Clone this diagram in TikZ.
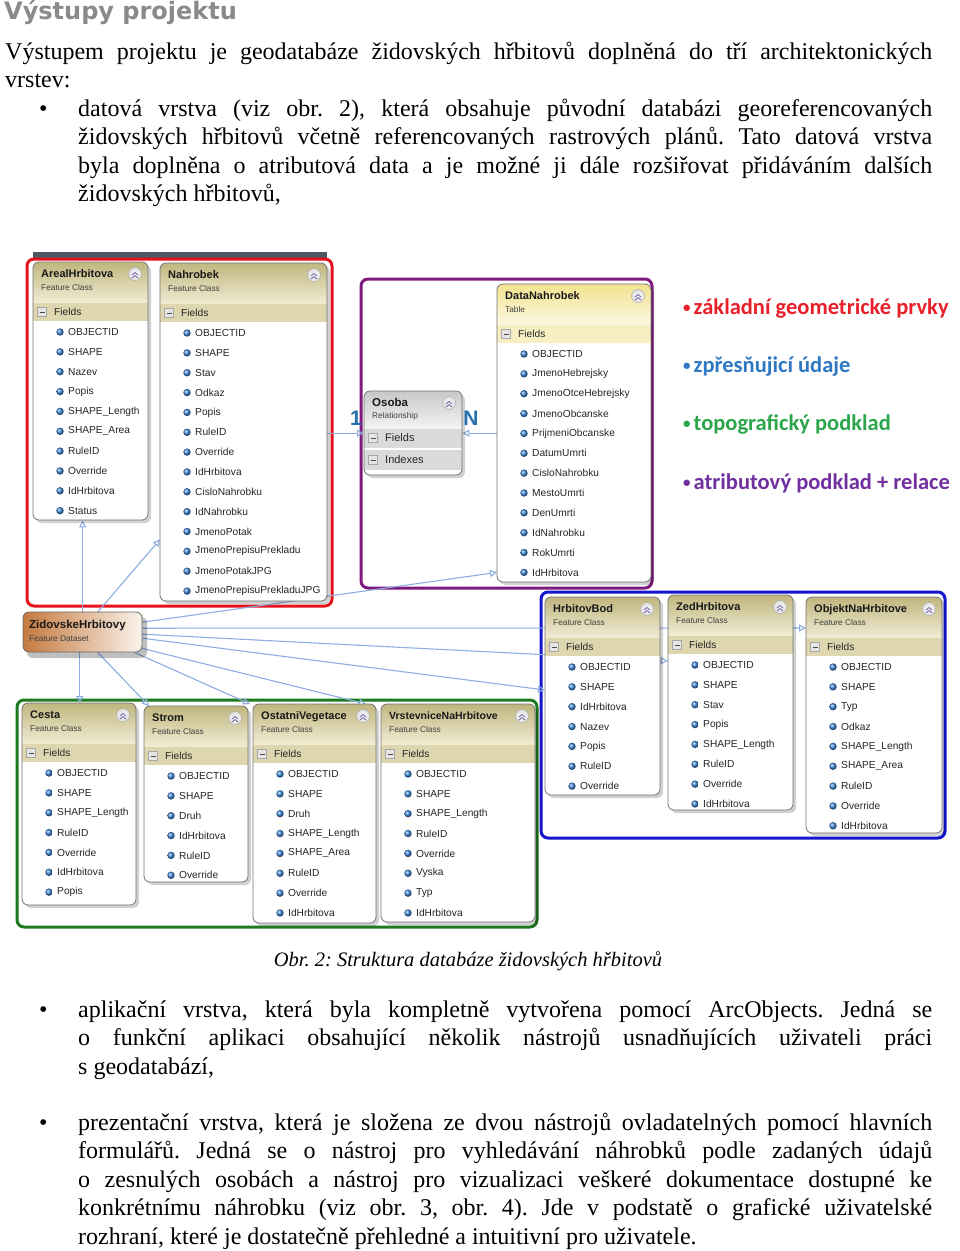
\documentclass[tikz,border=0pt]{standalone}
\usepackage{fontspec}
\setmainfont{Liberation Serif}
\newfontfamily\uifont{Liberation Sans}
\newfontfamily\legfont{Carlito}
\newfontfamily\headfont{DejaVu Sans}
\usetikzlibrary{arrows.meta}
\frenchspacing
\definecolor{hkA}{HTML}{C0B67E}\definecolor{hkB}{HTML}{F0EBD3}\definecolor{hkR}{HTML}{DED6AF}
\definecolor{ylA}{HTML}{F2E38F}\definecolor{ylB}{HTML}{FCF8E0}\definecolor{ylR}{HTML}{F7EFC2}
\definecolor{gyA}{HTML}{C8C8C8}\definecolor{gyB}{HTML}{F4F4F4}\definecolor{gyR}{HTML}{DADADA}
\definecolor{zidA}{HTML}{C57A3F}\definecolor{zidB}{HTML}{FAF3EB}
\definecolor{connc}{HTML}{8DAEE2}\definecolor{ballc}{HTML}{3D86D6}
\definecolor{redc}{HTML}{E5121B}\definecolor{purc}{HTML}{7E1A7E}\definecolor{bluc}{HTML}{1515CC}
\definecolor{grnc}{HTML}{1E7A1E}\definecolor{barc}{HTML}{4D5965}\definecolor{headc}{HTML}{8A8A8A}
\definecolor{relc}{HTML}{2770B0}\definecolor{chevc}{HTML}{7B6CA8}
\definecolor{legred}{HTML}{E8202A}\definecolor{legblue}{HTML}{2E78C4}
\definecolor{leggreen}{HTML}{2BA64B}\definecolor{legpurple}{HTML}{7030A0}
\tikzset{
 body/.style={font=\fontsize{24}{28.5}\selectfont, inner sep=0, anchor=base west},
 head/.style={font=\headfont\bfseries\fontsize{24}{28}\selectfont, text=headc, inner sep=0, anchor=base west},
 leg/.style={font=\legfont\bfseries\fontsize{22.5}{26}\selectfont, inner sep=0, anchor=base west},
 conn/.style={draw=connc, line width=1.1pt, -{Triangle[open, length=7pt, width=7pt]}},
 grp/.style={line width=3pt, rounded corners=7pt},
 titletext/.style={font=\uifont\bfseries\fontsize{11}{13}\selectfont, inner sep=0, anchor=base west, text=black!90},
 subtext/.style={font=\uifont\fontsize{8.3}{10}\selectfont, inner sep=0, anchor=base west, text=black!75},
 fieldtext/.style={font=\uifont\fontsize{10.2}{12}\selectfont, inner sep=0, anchor=west, text=black!85},
 bigfield/.style={font=\uifont\fontsize{11}{13}\selectfont, inner sep=0, anchor=west, text=black!85},
 minusbox/.style={draw=gray!70, fill=gray!20, minimum size=9pt, inner sep=0,
   path picture={\draw[black!70, line width=.8pt] ([xshift=2pt]path picture bounding box.west) -- ([xshift=-2pt]path picture bounding box.east);}},
 colicon/.style={circle, draw=gray!70, inner sep=0, minimum size=13pt, inner color=white, outer color=gray!25},
 chev/.style={draw=chevc, line width=.9pt},
 boxline/.style={draw=black!55, line width=.8pt, rounded corners=6pt},
 hkhdr/.style={top color=hkA, bottom color=hkB}, hkrow/.style={fill=hkR},
 ylhdr/.style={top color=ylA, bottom color=ylB}, ylrow/.style={fill=ylR},
 rel/.style={font=\uifont\bfseries\fontsize{21}{24}\selectfont, text=relc, inner sep=0}
}
\newcommand\lbul{\raisebox{2pt}{\fontsize{15}{15}\selectfont•}\hspace{3pt}}
% #1 name #2 colour set #3 x #4 y #5 w #6 h #7 title #8 subtitle #9 fields
\newcommand\ubox[9]{%
\begin{scope}[shift={(#3,#4)}]
 \fill[black, opacity=.18, rounded corners=6pt] (3,3) rectangle ({#5+3},{#6+3});
 \begin{scope}
  \clip[rounded corners=6pt] (0,0) rectangle (#5,#6);
  \fill[white] (0,0) rectangle (#5,#6);
  \shade[#2hdr] (0,0) rectangle (#5,40);
  \fill[#2row] (0,41) rectangle (#5,59);
 \end{scope}
 \draw[boxline] (0,0) rectangle (#5,#6);
 \node[titletext] (#1-t) at (8,15) {#7};
 \node[subtext] (#1-s) at (8,28.5) {#8};
 \node[colicon] (#1-c) at ({#5-13},12) {};
 \draw[chev] ({#5-16},13) -- ({#5-13},10.5) -- ({#5-10},13);
 \draw[chev] ({#5-16},16) -- ({#5-13},13.5) -- ({#5-10},16);
 \node[minusbox] (#1-m) at (9,50) {};
 \node[fieldtext] (#1-f) at (21,50) {Fields};
 \foreach \f [count=\i] in {#9}{%
   \shade[ball color=ballc] (27,{70+(\i-1)*19.85}) circle[radius=3.7pt];
   \node[fieldtext] (#1-\i) at (35,{70+(\i-1)*19.85}) {\f};}
 \node[inner sep=0, minimum width=#5pt, minimum height=#6pt, anchor=north west] (#1) at (0,0) {};
\end{scope}}
\newcommand\jline[5]{\node[body] (#1) at (#2,#3) {\hbox to #4pt{#5}};}
\begin{document}
\begin{tikzpicture}[x=1pt, y=-1pt]
\useasboundingbox (0,0) rectangle (960,1251);
\fill[white] (0,0) rectangle (960,1251);
% ---------------- text above
\node[head] (title) at (4,19) {Výstupy projektu};
\jline{p1a}{5}{59}{927}{Výstupem projektu je geodatabáze židovských hřbitovů doplněná do tří architektonických}
\node[body] (p1b) at (5,87.5) {vrstev:};
\node[body] (b1) at (39,116) {•};
\jline{p2a}{78}{116}{854}{datová vrstva (viz obr. 2), která obsahuje původní databázi georeferencovaných}
\jline{p2b}{78}{144.5}{854}{židovských hřbitovů včetně referencovaných rastrových plánů. Tato datová vrstva}
\jline{p2c}{78}{173}{854}{byla doplněna o atributová data a je možné ji dále rozšiřovat přidáváním dalších}
\node[body] (p2d) at (78,201.5) {židovských hřbitovů,};
% ---------------- group frames
\fill[barc] (33,252) rectangle (327,258);
\draw[grp, draw=redc] (27,259) rectangle (332,606);
\draw[grp, draw=purc] (361,279) rectangle (652,588);
\draw[grp, draw=bluc] (541,592) rectangle (945,838);
\draw[grp, draw=grnc] (17,700) rectangle (537,927);
% ---------------- invisible named placeholders for connectors
\node[inner sep=0, minimum width=115pt, minimum height=258pt, anchor=north west] (areal) at (33,262) {};
\node[inner sep=0, minimum width=167pt, minimum height=338pt, anchor=north west] (nahrobek) at (160,263) {};
\node[inner sep=0, minimum width=154pt, minimum height=298pt, anchor=north west] (datan) at (497,284) {};
\node[inner sep=0, minimum width=115pt, minimum height=198pt, anchor=north west] (hb) at (545,597) {};
\node[inner sep=0, minimum width=125pt, minimum height=215pt, anchor=north west] (zed) at (668,595) {};
\node[inner sep=0, minimum width=136pt, minimum height=236pt, anchor=north west] (obj) at (806,597) {};
\node[inner sep=0, minimum width=114pt, minimum height=202pt, anchor=north west] (cesta) at (22,703) {};
\node[inner sep=0, minimum width=104pt, minimum height=176pt, anchor=north west] (strom) at (144,706) {};
\node[inner sep=0, minimum width=123pt, minimum height=219pt, anchor=north west] (ostatni) at (253,704) {};
\node[inner sep=0, minimum width=154pt, minimum height=218pt, anchor=north west] (vrst) at (381,704) {};
\node[inner sep=0, minimum width=98pt, minimum height=84pt, anchor=north west] (osoba) at (364,391) {};
\node[inner sep=0, minimum width=119pt, minimum height=40pt, anchor=north west] (zid) at (23,612) {};
% ---------------- connectors
\draw[conn] (zid.north) -- (zid.north |- areal.south);
\draw[conn] ([xshift=15pt]zid.north) -- ([yshift=62pt]nahrobek.south west);
\draw[conn] ([yshift=10pt]zid.east) -- ([yshift=10pt]datan.south west);
\draw[conn] ([yshift=4pt]zid.east) -- ([yshift=-31pt]obj.north west);
\draw[conn] ([yshift=-2pt]zid.east) -- ([yshift=-66pt]zed.north west);
\draw[conn] ([yshift=-6pt]zid.east) -- ([yshift=-93pt]hb.north west);
\draw[conn] ([xshift=-3pt]zid.south) -- ([xshift=-3pt]zid.south |- cesta.north);
\draw[conn] ([xshift=15pt]zid.south) -- ([xshift=5pt]strom.north west);
\draw[conn] ([xshift=-8pt]zid.south east) -- ([xshift=-3pt]ostatni.north west);
\draw[conn] ([yshift=4pt]zid.south east) -- ([xshift=-15pt]vrst.north west);
\draw[conn] (nahrobek.east |- osoba.west) -- (osoba.west);
\draw[conn] (datan.west |- osoba.east) -- (osoba.east);
% ---------------- class boxes
\ubox{arealB}{hk}{33}{262}{115}{258}{ArealHrbitova}{Feature Class}{OBJECTID,SHAPE,Nazev,Popis,SHAPE\_Length,SHAPE\_Area,RuleID,Override,IdHrbitova,Status}
\ubox{nahrobekB}{hk}{160}{263}{167}{338}{Nahrobek}{Feature Class}{OBJECTID,SHAPE,Stav,Odkaz,Popis,RuleID,Override,IdHrbitova,CisloNahrobku,IdNahrobku,JmenoPotak,JmenoPrepisuPrekladu,JmenoPotakJPG,JmenoPrepisuPrekladuJPG}
\ubox{datanB}{yl}{497}{284}{154}{298}{DataNahrobek}{Table}{OBJECTID,JmenoHebrejsky,JmenoOtceHebrejsky,JmenoObcanske,PrijmeniObcanske,DatumUmrti,CisloNahrobku,MestoUmrti,DenUmrti,IdNahrobku,RokUmrti,IdHrbitova}
\ubox{hbB}{hk}{545}{597}{115}{198}{HrbitovBod}{Feature Class}{OBJECTID,SHAPE,IdHrbitova,Nazev,Popis,RuleID,Override}
\ubox{zedB}{hk}{668}{595}{125}{215}{ZedHrbitova}{Feature Class}{OBJECTID,SHAPE,Stav,Popis,SHAPE\_Length,RuleID,Override,IdHrbitova}
\ubox{objB}{hk}{806}{597}{136}{236}{ObjektNaHrbitove}{Feature Class}{OBJECTID,SHAPE,Typ,Odkaz,SHAPE\_Length,SHAPE\_Area,RuleID,Override,IdHrbitova}
\ubox{cestaB}{hk}{22}{703}{114}{202}{Cesta}{Feature Class}{OBJECTID,SHAPE,SHAPE\_Length,RuleID,Override,IdHrbitova,Popis}
\ubox{stromB}{hk}{144}{706}{104}{176}{Strom}{Feature Class}{OBJECTID,SHAPE,Druh,IdHrbitova,RuleID,Override}
\ubox{ostatniB}{hk}{253}{704}{123}{219}{OstatniVegetace}{Feature Class}{OBJECTID,SHAPE,Druh,SHAPE\_Length,SHAPE\_Area,RuleID,Override,IdHrbitova}
\ubox{vrstB}{hk}{381}{704}{154}{218}{{\fontsize{10.5}{12}\selectfont VrstevniceNaHrbitove}}{Feature Class}{OBJECTID,SHAPE,SHAPE\_Length,RuleID,Override,Vyska,Typ,IdHrbitova}
% ---------------- Osoba relationship
\begin{scope}[shift={(364,391)}]
 \fill[black, opacity=.18, rounded corners=6pt] (3,3) rectangle (101,87);
 \begin{scope}
  \clip[rounded corners=6pt] (0,0) rectangle (98,84);
  \fill[white] (0,0) rectangle (98,84);
  \shade[top color=gyA, bottom color=gyB] (0,0) rectangle (98,38);
  \fill[gyR] (0,38) rectangle (98,57);
  \fill[gyR] (0,59) rectangle (98,79);
 \end{scope}
 \draw[boxline] (0,0) rectangle (98,84);
 \node[titletext, font=\uifont\bfseries\fontsize{11.5}{13}\selectfont] (osT) at (8,15) {Osoba};
 \node[subtext] (osS) at (8,27) {Relationship};
 \node[colicon] (osC) at (85,12) {};
 \draw[chev] (82,13) -- (85,10.5) -- (88,13);
 \draw[chev] (82,16) -- (85,13.5) -- (88,16);
 \node[minusbox] (osM1) at (9,47) {};
 \node[bigfield] (osF) at (21,47) {Fields};
 \node[minusbox] (osM2) at (9,69) {};
 \node[bigfield] (osI) at (21,69) {Indexes};
\end{scope}
\node[rel] (one) at (356,418) {1};
\node[rel] (en) at (471,418) {N};
% ---------------- feature dataset
\begin{scope}[shift={(23,612)}]
 \fill[black, opacity=.25, rounded corners=6pt] (4,5) rectangle (124,46);
 \shadedraw[left color=zidA, right color=zidB, draw=black!60, line width=.8pt, rounded corners=6pt] (0,0) rectangle (119,40);
 \node[titletext, font=\uifont\bfseries\fontsize{11.5}{13}\selectfont] (zidT) at (6,16) {ZidovskeHrbitovy};
 \node[subtext] (zidS) at (6,29) {Feature Dataset};
\end{scope}
% ---------------- legend
\node[leg, text=legred] (l1) at (683,314) {\lbul základní geometrické prvky};
\node[leg, text=legblue] (l2) at (683,372) {\lbul zpřesňujicí údaje};
\node[leg, text=leggreen] (l3) at (683,430) {\lbul topografický podklad};
\node[leg, text=legpurple] (l4) at (683,489) {\lbul atributový podklad + relace};
% ---------------- caption
\node[font=\itshape\fontsize{20.5}{24}\selectfont, inner sep=0, anchor=base] (cap) at (468,966) {Obr. 2: Struktura databáze židovských hřbitovů};
% ---------------- text below
\node[body] (b2) at (39,1017) {•};
\jline{p3a}{78}{1017}{854}{aplikační vrstva, která byla kompletně vytvořena pomocí ArcObjects. Jedná se}
\jline{p3b}{78}{1045.5}{854}{o funkční aplikaci obsahující několik nástrojů usnadňujících uživateli práci}
\node[body] (p3c) at (78,1074) {s geodatabází,};
\node[body] (b3) at (39,1130) {•};
\jline{p4a}{78}{1130}{854}{prezentační vrstva, která je složena ze dvou nástrojů ovladatelných pomocí hlavních}
\jline{p4b}{78}{1158.5}{854}{formulářů. Jedná se o nástroj pro vyhledávání náhrobků podle zadaných údajů}
\jline{p4c}{78}{1187}{854}{o zesnulých osobách a nástroj pro vizualizaci veškeré dokumentace dostupné ke}
\jline{p4d}{78}{1215.5}{854}{konkrétnímu náhrobku (viz obr. 3, obr. 4). Jde v podstatě o grafické uživatelské}
\node[body] (p4e) at (78,1244) {rozhraní, které je dostatečně přehledné a intuitivní pro uživatele.};
\end{tikzpicture}
\end{document}
